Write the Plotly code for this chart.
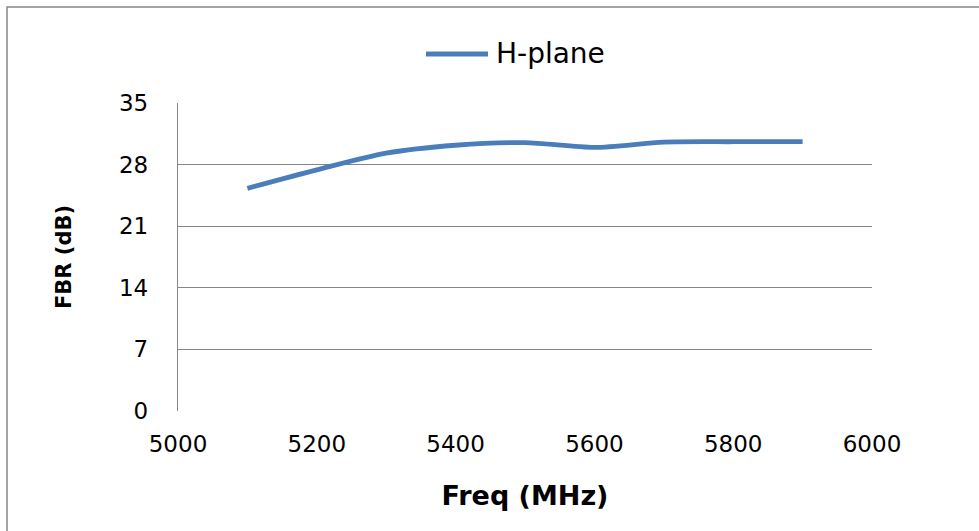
import plotly.graph_objects as go

freq = [5100, 5200, 5300, 5400, 5500, 5600, 5700, 5800, 5900]
fbr = [25.3, 27.4, 29.3, 30.2, 30.5, 29.95, 30.55, 30.6, 30.6]
series_name = "H-plane"
y_ticks = [0, 7, 14, 21, 28, 35]
x_ticks = [5000, 5200, 5400, 5600, 5800, 6000]

W, H = 979, 531
L, R, T, B = 178, 872, 103, 411  # plot area in pixels
line_color = "#4a7ebb"

fig = go.Figure()
fig.add_trace(go.Scatter(
    x=freq, y=fbr, mode="lines", name=series_name, showlegend=False,
    line=dict(color=line_color, width=4.8, shape="spline", smoothing=0.8),
))

grid_color = "#868686"
tick_font = dict(family="DejaVu Sans, Liberation Sans, Arial", size=23, color="#000000")

plot_w = R - L
plot_h = B - T

def px_x(p):
    return (p - L) / plot_w

def px_y(p):
    return (B - p) / plot_h

fig.update_layout(
    width=W, height=H,
    margin=dict(l=L, r=W - R, t=T, b=H - B),
    paper_bgcolor="white", plot_bgcolor="white",
    showlegend=False,
    xaxis=dict(range=[5000, 6000], tickvals=x_ticks, ticktext=[str(v) for v in x_ticks],
               showgrid=False, zeroline=False, showline=False, ticks="",
               tickfont=tick_font, ticklabelstandoff=17, automargin=False,
               title=dict(text="<b>Freq (MHz)</b>", standoff=30,
                          font=dict(family="DejaVu Sans, Liberation Sans", size=27, color="#000000"))),
    yaxis=dict(range=[0, 35], tickvals=y_ticks, ticktext=[str(v) for v in y_ticks],
               showgrid=True, gridcolor=grid_color, gridwidth=1.4,
               zeroline=False, showline=True, linecolor=grid_color, linewidth=1.4,
               ticks="", tickfont=tick_font, ticklabelstandoff=24, automargin=False,
               title=dict(text="<b>FBR (dB)</b>", standoff=41,
                          font=dict(family="DejaVu Sans, Liberation Sans", size=21, color="#000000"))),
    shapes=[
        dict(type="rect", xref="paper", yref="paper",
             x0=px_x(7), x1=px_x(W + 50), y0=px_y(H + 50), y1=px_y(7),
             line=dict(color="#868686", width=1.5), fillcolor="rgba(0,0,0,0)", layer="below"),
        # legend swatch
        dict(type="line", xref="paper", yref="paper",
             x0=px_x(426), x1=px_x(488), y0=px_y(54), y1=px_y(54),
             line=dict(color=line_color, width=4.8)),
    ],
    annotations=[
        dict(text=series_name, xref="paper", yref="paper", x=px_x(494), y=px_y(54),
             xanchor="left", yanchor="middle", showarrow=False,
             font=dict(family="DejaVu Sans, Liberation Sans, Arial", size=28, color="#000000")),
    ],
)
fig.write_html("out.html", config={"displayModeBar": False},
               post_script="document.body.style.margin='0';")
